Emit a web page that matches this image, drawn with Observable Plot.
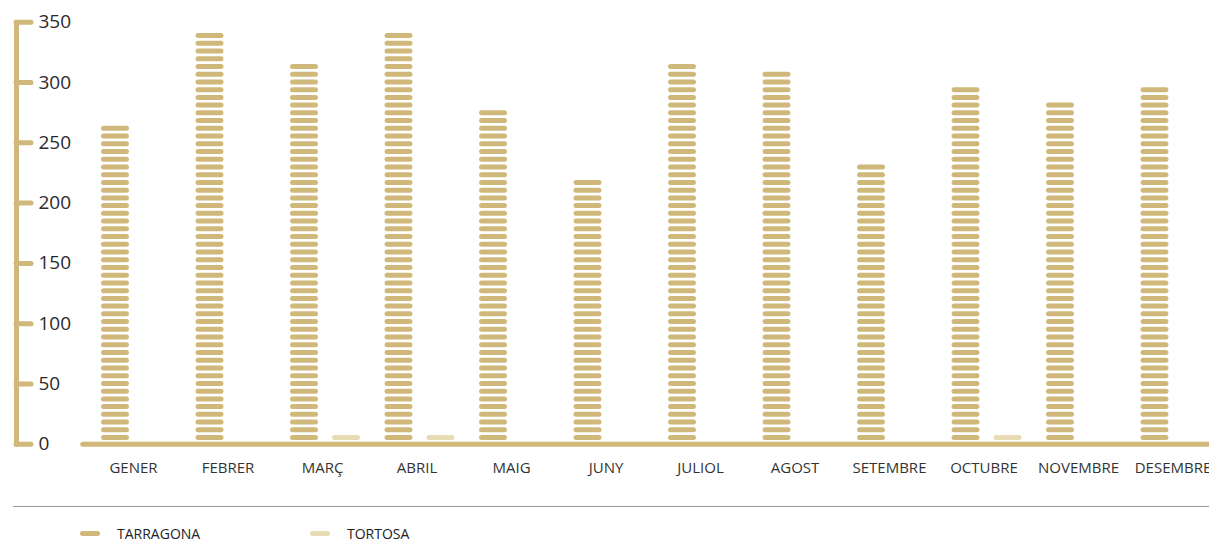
<!DOCTYPE html>
<html>
<head>
<meta charset="utf-8">
<script src="https://cdn.jsdelivr.net/npm/d3@7"></script>
<script src="https://cdn.jsdelivr.net/npm/@observablehq/plot@0.6"></script>
<style>
  body { margin: 0; background: #fff; font-family: "Open Sans", sans-serif; }
  #legend-rule { margin: 16px 0 0 13px; height: 0; border-top: 1.5px solid #9a9a9a; width: 1196px; }
  #legend { position: relative; height: 37px; font-size: 14px; color: #222; }
  .item { position: absolute; top: 17px; display: flex; align-items: center; }
  .sw { width: 20px; height: 5px; border-radius: 3px; margin-right: 17px; }
</style>
</head>
<body>
<div id="chart"></div>
<div id="legend-rule"></div>
<div id="legend"></div>
<script>
const months = ["GENER","FEBRER","MARÇ","ABRIL","MAIG","JUNY","JULIOL","AGOST","SETEMBRE","OCTUBRE","NOVEMBRE","DESEMBRE"];
const tarragona = [263, 341, 315, 341, 276, 221, 316, 309, 230, 296, 285, 296];
const tortosa   = [0, 0, 7, 7, 0, 0, 0, 0, 0, 7, 0, 0];
const seriesNames = ["TARRAGONA", "TORTOSA"];
const seriesColors = ["#cfb87a", "#e7dbb4"];
const yTicks = [0, 50, 100, 150, 200, 250, 300, 350];
const PITCH = 6.41; // value units represented by each stacked dash

function dashes(values, series) {
  const out = [];
  values.forEach((v, i) => {
    const n = Math.round((v - 1.2) / PITCH);
    for (let k = 1; k <= n; k++) out.push({month: months[i], series, y: k * PITCH - 0.8});
  });
  return out;
}
const dT = dashes(tarragona, seriesNames[0]);
const dO = dashes(tortosa, seriesNames[1]);

const gold = seriesColors[0];
const mLeft = 85.75;
const chart = Plot.plot({
  width: 1209,
  height: 490,
  marginLeft: mLeft,
  marginRight: -10.75,
  marginTop: 21.7,
  marginBottom: 46.2,
  style: {fontFamily: "Open Sans, sans-serif", overflow: "hidden"},
  x: {domain: months, paddingInner: 0.69, paddingOuter: 0.345, round: false, axis: null},
  y: {domain: [0, 350], axis: null},
  marks: [
    Plot.frame({anchor: "left", dx: 16 - mLeft, stroke: gold, strokeWidth: 5, strokeLinecap: "round"}),
    Plot.axisY(yTicks, {anchor: "left", label: null, tickSize: 15, tickFormat: () => "", dx: 31 - mLeft, stroke: gold, strokeWidth: 5, strokeLinecap: "round", strokeOpacity: 1}),
    Plot.axisY(yTicks, {anchor: "left", label: null, tickSize: 0, tickPadding: 0, textAnchor: "start", dx: 38 - mLeft, fontSize: 19, fill: "#2a2a2a"}),
    Plot.ruleY([0], {stroke: gold, strokeWidth: 5, strokeLinecap: "round", insetLeft: -3}),
    Plot.tickY(dT, {x: "month", y: "y", dx: -18, stroke: seriesColors[0], strokeWidth: 5, strokeLinecap: "round", inset: 3.2}),
    Plot.tickY(dO, {x: "month", y: "y", dx: 24, stroke: seriesColors[1], strokeWidth: 5, strokeLinecap: "round", inset: 3.2}),
    Plot.axisX({label: null, tickSize: 0, tickPadding: 18, fontSize: 15, fill: "#333"})
  ]
});
document.getElementById("chart").appendChild(chart);

const legend = document.getElementById("legend");
const lx = [80, 310];
seriesNames.forEach((s, i) => {
  const d = document.createElement("div");
  d.className = "item";
  d.style.left = lx[i] + "px";
  d.innerHTML = `<span class="sw" style="background:${seriesColors[i]}"></span><span>${s}</span>`;
  legend.appendChild(d);
});
</script>
</body>
</html>
